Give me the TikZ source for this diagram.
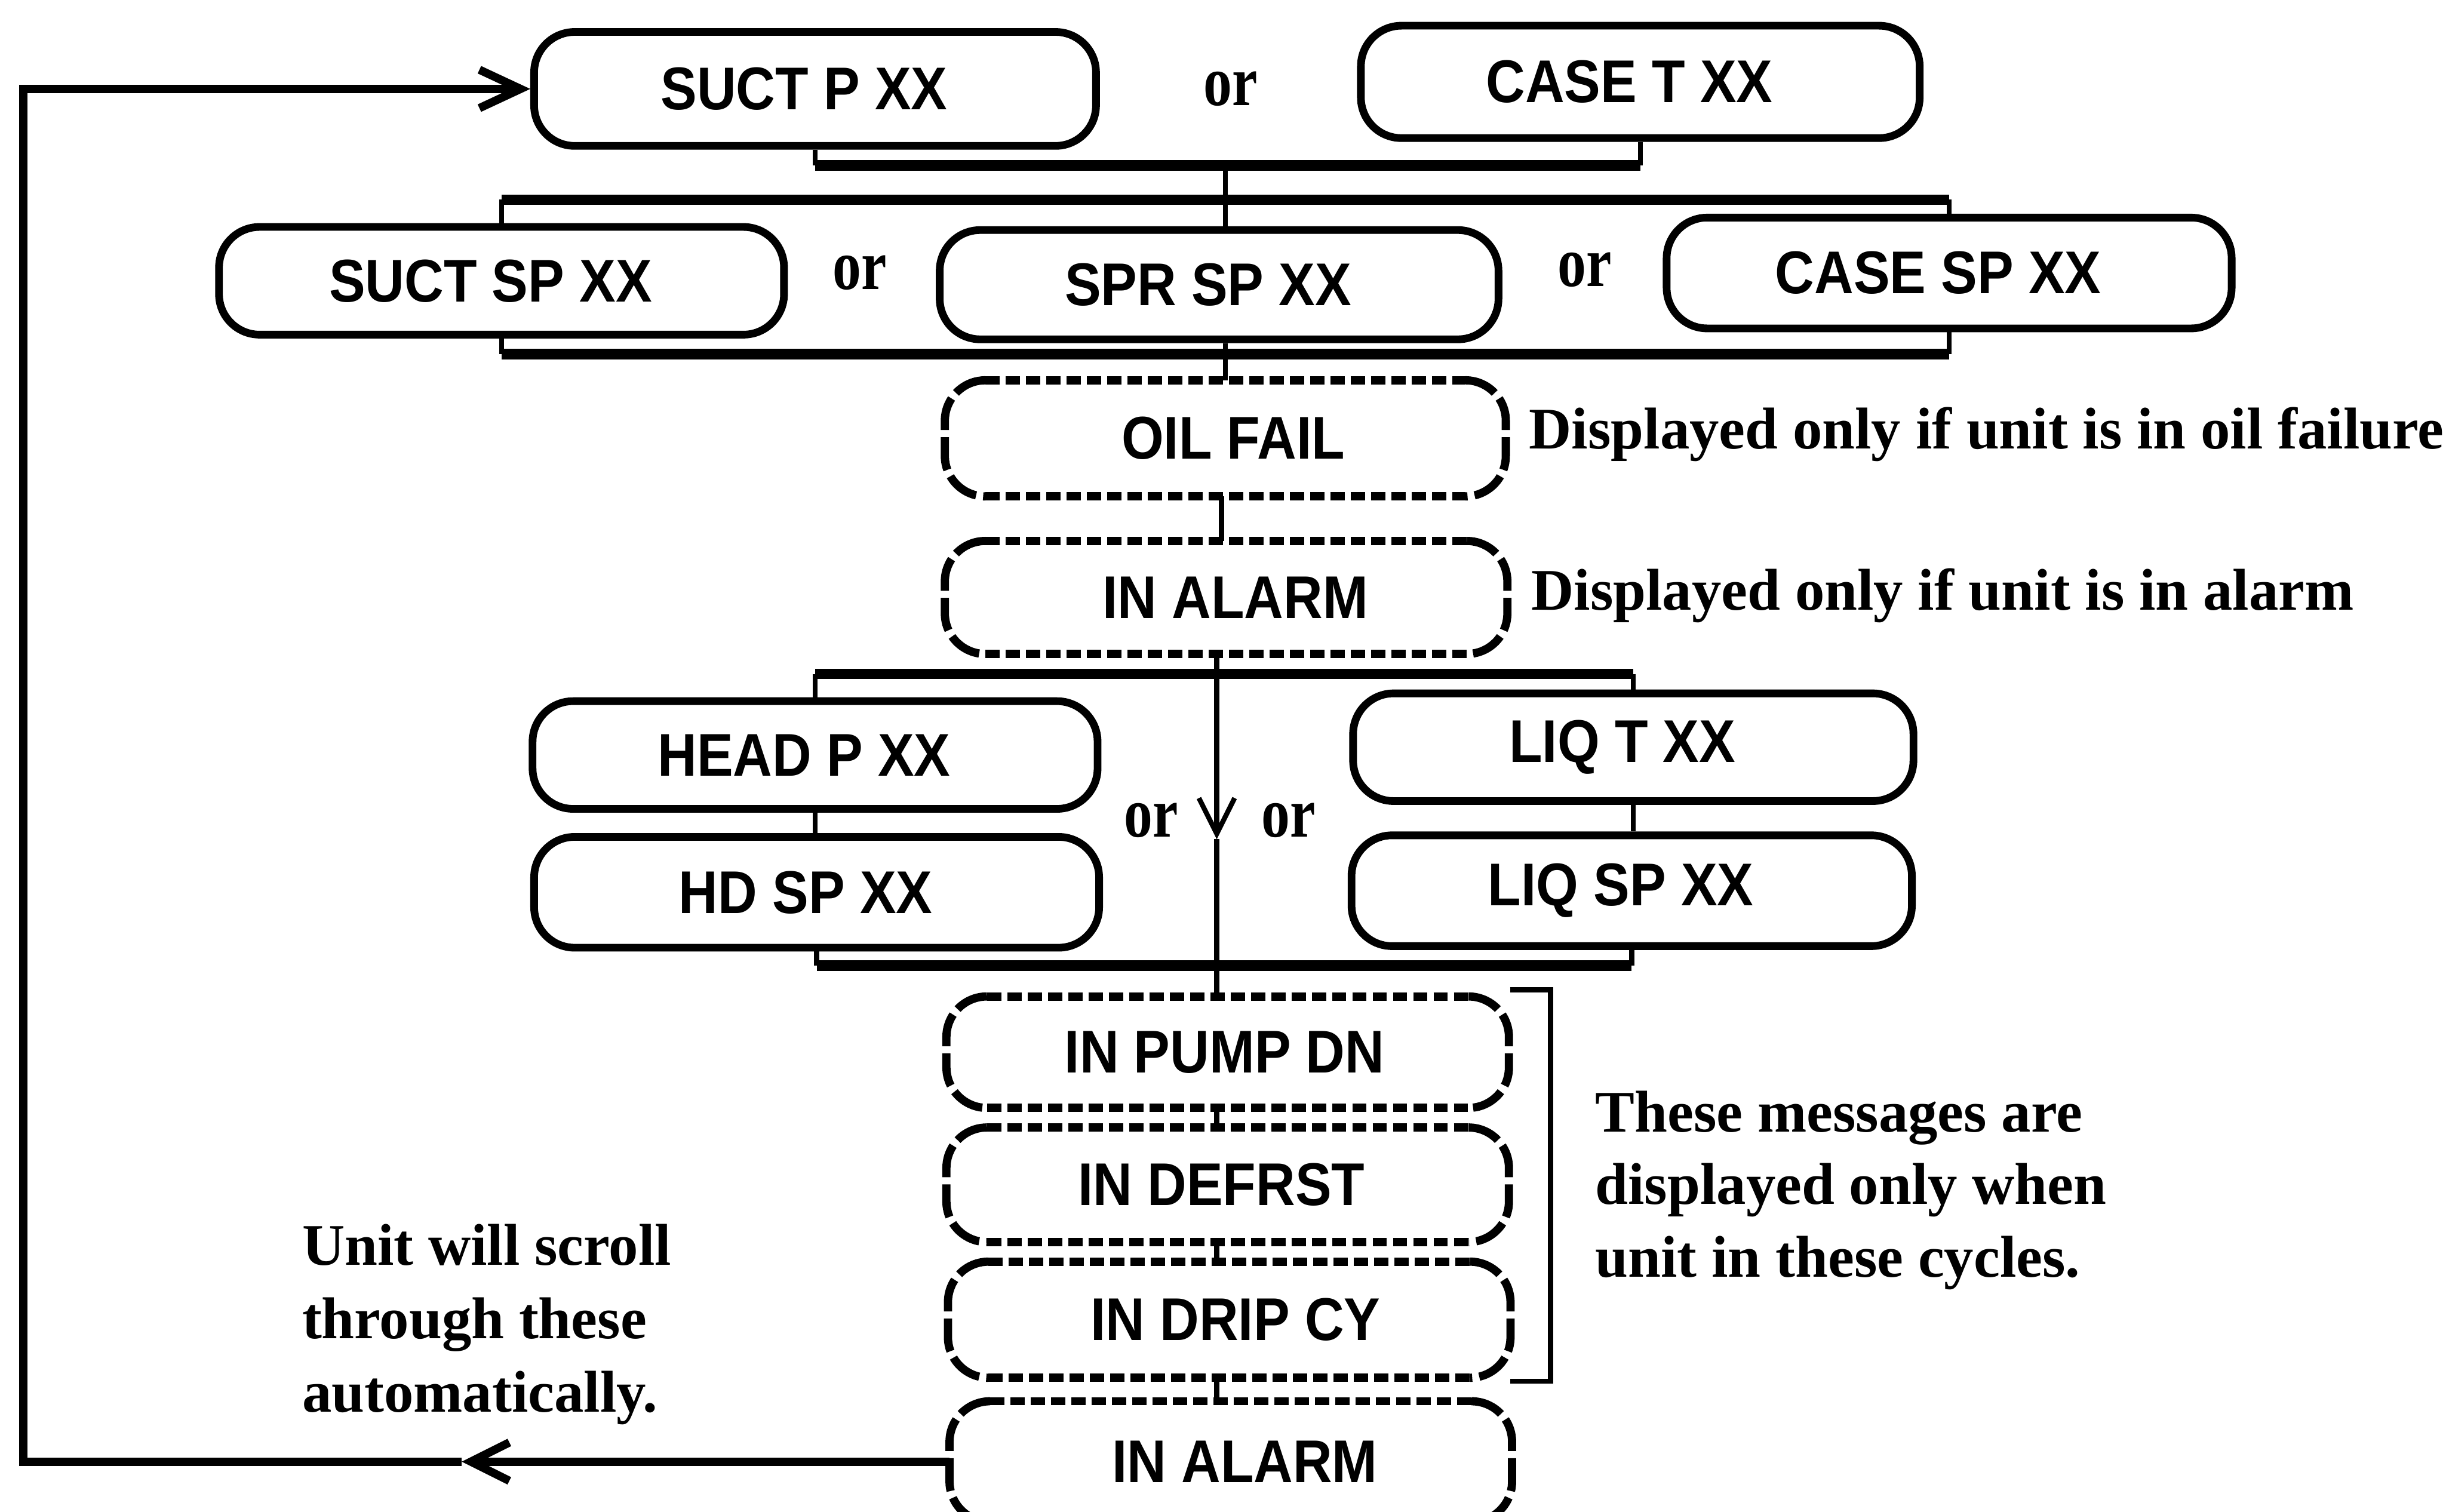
\documentclass[tikz,border=0pt]{standalone}
\usepackage{fontspec}
\setmainfont{Liberation Serif}
\newfontfamily\boxfont{Liberation Sans}[FakeStretch=0.9]
\newfontfamily\orfont{Liberation Serif}[FakeStretch=0.8]
\usetikzlibrary{arrows.meta}
\newcommand{\dashedoutline}[1]{%
  \draw[dtop] ([xshift=0.26cm]#1.north west) -- ([xshift=-0.26cm]#1.north east);
  \draw[dtop] ([xshift=0.26cm]#1.south west) -- ([xshift=-0.26cm]#1.south east);
  \draw[dside] ([xshift=0.26cm]#1.north west) -- (#1.north west) -- (#1.south west) -- ([xshift=0.26cm]#1.south west);
  \draw[dside] ([xshift=-0.26cm]#1.north east) -- (#1.north east) -- (#1.south east) -- ([xshift=-0.26cm]#1.south east);
}
\tikzset{
  boxtxt/.style={inner sep=0pt, font=\boxfont\bfseries\fontsize{11}{13}\selectfont},
  sbox/.style={boxtxt, draw, line width=1.4pt, rounded corners=0.26cm, tshift=-0.14cm},
  dbox/.style={boxtxt},
  tshift/.style={execute at begin node={\kern#1}},
  dtop/.style={line width=1.5pt, dash pattern=on 2.6pt off 1.1pt},
  dside/.style={line width=1.5pt, dash pattern=on 6pt off 1.3pt, rounded corners=0.26cm},
  bar/.style={line width=1.9pt},
  stem/.style={line width=0.9pt},
  loopl/.style={line width=1.5pt},
  ortxt/.style={inner sep=0pt, font=\orfont\bfseries\fontsize{13}{15}\selectfont},
  lab/.style={inner sep=0pt, anchor=base west, font=\bfseries\fontsize{10.75}{13}\selectfont},
}
\begin{document}
\begin{tikzpicture}[x=0.01cm, y=-0.01cm]
\useasboundingbox (0,0) rectangle (1568,969);

% solid boxes
\node[sbox, minimum width=3.60cm, minimum height=0.73cm] (sp) at (522.5,57) {SUCT P XX};
\node[sbox, minimum width=3.58cm, minimum height=0.72cm] (ct) at (1051.5,52.5) {CASE T XX};
\node[sbox, minimum width=3.62cm, minimum height=0.69cm] (ssp) at (321.5,180) {SUCT SP XX};
\node[sbox, minimum width=3.58cm, minimum height=0.70cm] (sprsp) at (781.5,182.5) {SPR SP XX};
\node[sbox, minimum width=3.62cm, minimum height=0.71cm] (csp) at (1249.5,175) {CASE SP XX};
\node[sbox, minimum width=3.62cm, minimum height=0.69cm] (hp) at (522.5,484) {HEAD P XX};
\node[sbox, minimum width=3.62cm, minimum height=0.71cm] (hdsp) at (523.5,572) {HD SP XX};
\node[sbox, minimum width=3.59cm, minimum height=0.69cm] (lqt) at (1047,479) {LIQ T XX};
\node[sbox, minimum width=3.59cm, minimum height=0.71cm] (lsp) at (1046,571) {LIQ SP XX};

% dashed boxes
\node[dbox, tshift=0.10cm, minimum width=3.58cm, minimum height=0.73cm] (oil) at (785.5,281) {OIL FAIL};
\node[dbox, tshift=0.12cm, minimum width=3.59cm, minimum height=0.71cm] (al1) at (786,383) {IN ALARM};
\node[dbox, tshift=-0.04cm, minimum width=3.59cm, minimum height=0.70cm] (pd) at (787,674.5) {IN PUMP DN};
\node[dbox, tshift=-0.08cm, minimum width=3.59cm, minimum height=0.72cm] (df) at (787,759.5) {IN DEFRST};
\node[dbox, tshift=0.08cm, minimum width=3.59cm, minimum height=0.73cm] (dc) at (788,846) {IN DRIP CY};
\node[dbox, tshift=0.18cm, minimum width=3.59cm, minimum height=0.76cm] (al2) at (789,937) {IN ALARM};
\dashedoutline{oil}
\dashedoutline{al1}
\dashedoutline{pd}
\dashedoutline{df}
\dashedoutline{dc}
\dashedoutline{al2}

% "or" labels
\node[ortxt] (or1) at (789,57) {or};
\node[ortxt] (or2) at (551,175) {or};
\node[ortxt] (or3) at (1016,173) {or};
\node[ortxt] (or4) at (738,526) {or};
\node[ortxt] (or5) at (826,526) {or};

% bracket levels
\coordinate (y1) at (0,106);
\coordinate (y2) at (0,128);
\coordinate (y3) at (0,227);
\coordinate (y4) at (0,432);
\coordinate (y5) at (0,619);
\coordinate (mx) at (780,0);
\coordinate (ox) at (783,0);

% top bracket
\draw[bar] (sp.south |- y1) -- (ct.south |- y1);
\draw[stem] (sp.south) -- (sp.south |- y1);
\draw[stem] (ct.south) -- (ct.south |- y1);
\draw[stem] (oil.north |- y1) -- (oil.north |- y2);
% second row brackets
\draw[bar] (ssp.north |- y2) -- (csp.north |- y2);
\draw[stem] (ssp.north |- y2) -- (ssp.north);
\draw[stem] (csp.north |- y2) -- (csp.north);
\draw[stem] (oil.north |- y2) -- (oil.north |- sprsp.north);
\draw[bar] (ssp.south |- y3) -- (csp.south |- y3);
\draw[stem] (ssp.south) -- (ssp.south |- y3);
\draw[stem] (csp.south) -- (csp.south |- y3);
\draw[stem] (oil.north |- sprsp.south) -- (oil.north);
% oil fail -> in alarm
\draw[stem] (oil.south -| ox) -- (al1.north -| ox);
% third row brackets
\draw[bar] (hp.north |- y4) -- (lqt.north |- y4);
\draw[stem] (hp.north |- y4) -- (hp.north);
\draw[stem] (lqt.north |- y4) -- (lqt.north);
\draw[stem] (hp.south) -- (hp.south |- hdsp.north);
\draw[stem] (lqt.south) -- (lqt.south |- lsp.north);
\draw[bar] (hdsp.south |- y5) -- (lsp.south |- y5);
\draw[stem] (hdsp.south) -- (hdsp.south |- y5);
\draw[stem] (lsp.south) -- (lsp.south |- y5);
% main vertical with arrow
\coordinate (ma) at (780,538);
\draw[stem, -{Straight Barb[length=6.5pt,width=6.5pt]}] (al1.south -| mx) -- (ma);
\draw[stem] (ma) -- (pd.north -| mx);
% stack stems
\draw[stem] (pd.south -| mx) -- (df.north -| mx);
\draw[stem] (df.south -| mx) -- (dc.north -| mx);
\draw[stem] (dc.south -| mx) -- (al2.north -| mx);

% right bracket
\coordinate (rb1) at (968,634.5);
\coordinate (rb2) at (994,634.5);
\coordinate (rb3) at (994,885.5);
\coordinate (rb4) at (968,885.5);
\draw[stem] (rb1) -- (rb2) -- (rb3) -- (rb4);

% loop back
\coordinate (la) at (296,937);
\coordinate (lb) at (15,937);
\coordinate (lc) at (15,57);
\draw[loopl, -{Straight Barb[length=7pt,width=7pt]}] (al2.west) -- (la);
\draw[loopl, -{Straight Barb[length=7.5pt,width=7pt]}] (la) -- (lb) -- (lc) -- (sp.west);

% labels
\node[lab] (t1) at (979.5,287.6) {Displayed only if unit is in oil failure};
\node[lab] (t2) at (981,391) {Displayed only if unit is in alarm};
\node[lab] (t3) at (1022,725.6) {These messages are};
\node[lab] (t4) at (1022,772) {displayed only when};
\node[lab] (t5) at (1022,818.6) {unit in these cycles.};
\node[lab] (t6) at (193,811) {Unit will scroll};
\node[lab] (t7) at (193,858) {through these};
\node[lab] (t8) at (193,905) {automatically.};
\end{tikzpicture}
\end{document}
